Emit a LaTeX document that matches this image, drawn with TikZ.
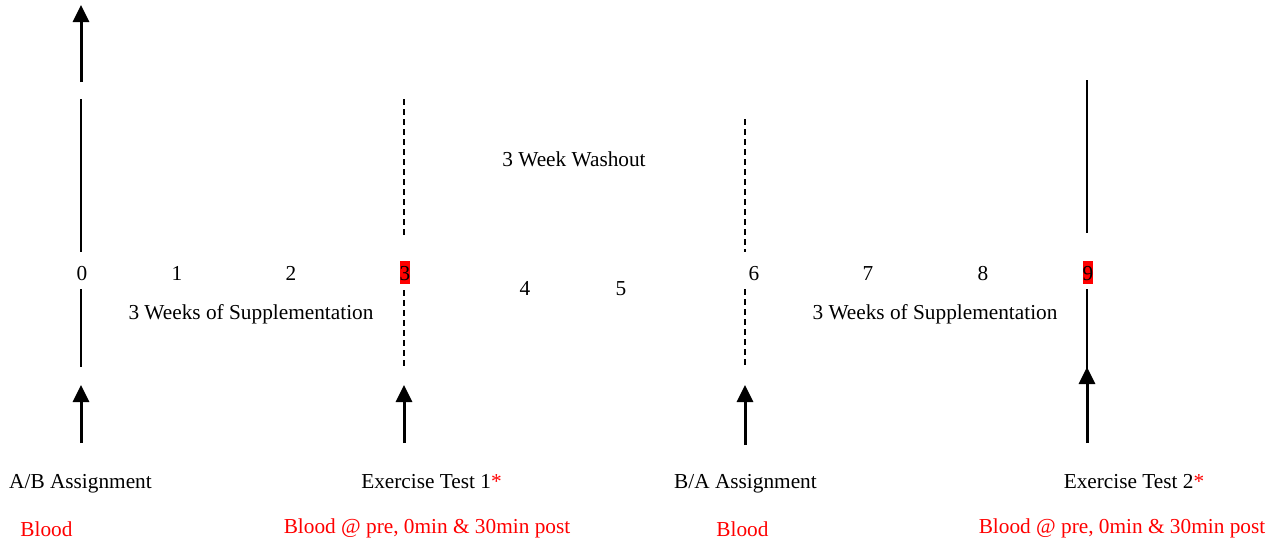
\documentclass[tikz,border=0pt]{standalone}
\usepackage{fontspec}
\setmainfont{Liberation Serif}
\usetikzlibrary{arrows.meta}
\begin{document}
\begin{tikzpicture}[x=1pt,y=-1pt,
  every node/.style={font=\fontsize{21.3}{25}\selectfont, inner sep=0pt, anchor=base},
  solidline/.style={line width=2.3pt},
  dashline/.style={line width=2.3pt, dash pattern=on 6pt off 4pt},
  uparrow/.style={line width=3pt, -{Triangle[width=16pt,length=17pt]}},
  redtxt/.style={text=red},
  hibox/.style={fill=red, text height=19pt, text depth=4pt, inner xsep=0pt}]
\useasboundingbox (0,0) rectangle (1272,539);

% numbers
\node (n0) at (82,280) {0};
\node (n1) at (177,280) {1};
\node (n2) at (291,280) {2};
\node[hibox] (n3) at (405,280) {3};
\node (n4) at (525,295) {4};
\node (n5) at (621,295) {5};
\node (n6) at (754,280) {6};
\node (n7) at (868,280) {7};
\node (n8) at (983,280) {8};
\node[hibox] (n9) at (1088,280) {9};

% texts
\node (wash) at (574,166) {3 Week Washout};
\node (supA) at (251,319) {3 Weeks of Supplementation};
\node (supB) at (935,319) {3 Weeks of Supplementation};
\node (ab) at (80.5,488) {A/B Assignment};
\node[redtxt] (bl1) at (46.5,536) {Blood};
\node (ex1) at (431.5,488) {Exercise Test 1\textcolor{red}{*}};
\node[redtxt] (bl2) at (427,533) {Blood @ pre, 0min \& 30min post};
\node (ba) at (745.5,488) {B/A Assignment};
\node[redtxt] (bl3) at (742.5,536) {Blood};
\node (ex2) at (1134,488) {Exercise Test 2\textcolor{red}{*}};
\node[redtxt] (bl4) at (1122,533) {Blood @ pre, 0min \& 30min post};

% coordinates
\coordinate (a0top) at (81,5);
\coordinate (a0bot) at (81,82);
\coordinate (l0a) at (81,99);
\coordinate (l0b) at (81,252);
\coordinate (l0c) at (81,289);
\coordinate (l0d) at (81,367);
\coordinate (p0tip) at (81,385);
\coordinate (p0tail) at (81,443);

\coordinate (l3a) at (404,99);
\coordinate (l3b) at (404,236);
\coordinate (l3c) at (404,290);
\coordinate (l3d) at (404,367);
\coordinate (p3tip) at (404,385);
\coordinate (p3tail) at (404,443);

\coordinate (l6a) at (745,119);
\coordinate (l6b) at (745,252);
\coordinate (l6c) at (745,289);
\coordinate (l6d) at (745,367);
\coordinate (p6tip) at (745,385);
\coordinate (p6tail) at (745,445);

\coordinate (l9a) at (1087,80);
\coordinate (l9b) at (1087,233);
\coordinate (l9c) at (1087,289);
\coordinate (l9d) at (1087,443);
\coordinate (p9tip) at (1087,367);

% lines
\draw[uparrow] (a0bot) -- (a0top);
\draw[solidline] (l0a) -- (l0b);
\draw[solidline] (l0c) -- (l0d);
\draw[uparrow] (p0tail) -- (p0tip);

\draw[dashline] (l3a) -- (l3b);
\draw[dashline] (l3c) -- (l3d);
\draw[uparrow] (p3tail) -- (p3tip);

\draw[dashline] (l6a) -- (l6b);
\draw[dashline] (l6c) -- (l6d);
\draw[uparrow] (p6tail) -- (p6tip);

\draw[solidline] (l9a) -- (l9b);
\draw[solidline] (l9c) -- (l9d);
\draw[uparrow] (l9d) -- (p9tip);
\end{tikzpicture}
\end{document}
